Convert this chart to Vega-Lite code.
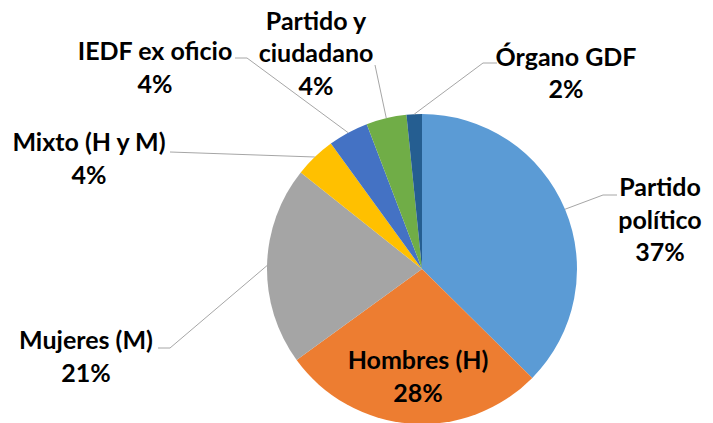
{
  "$schema": "https://vega.github.io/schema/vega-lite/v6.json",
  "width": 310,
  "height": 310,
  "autosize": {"type": "none"},
  "padding": {"left": 267, "top": 114, "right": 136, "bottom": 0},
  "background": "white",
  "config": {"view": {"stroke": null}},
  "data": {
    "values": [
      {"categoria": "Partido político", "pct": 37.4, "orden": 1, "etiqueta": "Partido\npolítico\n37%"},
      {"categoria": "Hombres (H)", "pct": 27.6, "orden": 2, "etiqueta": "Hombres (H)\n28%"},
      {"categoria": "Mujeres (M)", "pct": 20.7, "orden": 3, "etiqueta": "Mujeres (M)\n21%"},
      {"categoria": "Mixto (H y M)", "pct": 4.3, "orden": 4, "etiqueta": "Mixto (H y M)\n4%"},
      {"categoria": "IEDF ex oficio", "pct": 4.2, "orden": 5, "etiqueta": "IEDF ex oficio\n4%"},
      {"categoria": "Partido y ciudadano", "pct": 4.2, "orden": 6, "etiqueta": "Partido y\nciudadano\n4%"},
      {"categoria": "Órgano GDF", "pct": 1.6, "orden": 7, "etiqueta": "Órgano GDF\n2%"}
    ]
  },
  "layer": [
    {
      "mark": {"type": "arc", "outerRadius": 155},
      "encoding": {
        "theta": {"field": "pct", "type": "quantitative", "stack": true},
        "color": {
          "field": "categoria",
          "type": "nominal",
          "scale": {
            "domain": ["Partido político", "Hombres (H)", "Mujeres (M)", "Mixto (H y M)", "IEDF ex oficio", "Partido y ciudadano", "Órgano GDF"],
            "range": ["#5B9BD5", "#ED7D31", "#A5A5A5", "#FFC000", "#4472C4", "#70AD47", "#255E91"]
          },
          "legend": null
        },
        "order": {"field": "orden", "type": "quantitative"}
      }
    },
    {
      "transform": [
        {"window": [{"op": "sum", "field": "pct", "as": "acum"}], "sort": [{"field": "orden"}], "frame": [null, 0]},
        {"joinaggregate": [{"op": "sum", "field": "pct", "as": "total"}]},
        {"calculate": "2 * PI * (datum.acum - datum.pct / 2) / datum.total", "as": "ang"},
        {"calculate": "155 * sin(datum.ang)", "as": "bx"},
        {"calculate": "-155 * cos(datum.ang)", "as": "by"},
        {"calculate": "[181, 0, -252, -252, -175, -47, 61][datum.orden - 1]", "as": "kx"},
        {"calculate": "[-74, 0, 79, -117, -211, -204, -206][datum.orden - 1]", "as": "ky"},
        {"filter": "datum.orden != 2"}
      ],
      "mark": {"type": "rule", "color": "#A6A6A6", "strokeWidth": 1},
      "encoding": {
        "x": {"field": "bx", "type": "quantitative", "scale": {"domain": [-155, 155], "nice": false, "zero": false}, "axis": null},
        "y": {"field": "by", "type": "quantitative", "scale": {"domain": [-155, 155], "nice": false, "zero": false, "reverse": true}, "axis": null},
        "x2": {"field": "kx"},
        "y2": {"field": "ky"}
      }
    },
    {
      "transform": [
        {"calculate": "[181, 0, -252, -252, -175, -47, 61][datum.orden - 1]", "as": "kx"},
        {"calculate": "[-74, 0, 79, -117, -211, -204, -206][datum.orden - 1]", "as": "ky"},
        {"calculate": "[195, 0, -264, -252, -187, -47, 75][datum.orden - 1]", "as": "fx"},
        {"filter": "datum.orden != 2"}
      ],
      "mark": {"type": "rule", "color": "#A6A6A6", "strokeWidth": 1},
      "encoding": {
        "x": {"field": "kx", "type": "quantitative"},
        "y": {"field": "ky", "type": "quantitative"},
        "x2": {"field": "fx"},
        "y2": {"field": "ky"}
      }
    },
    {
      "transform": [
        {"calculate": "[238, -4, -336, -333, -267, -106, 144][datum.orden - 1]", "as": "lx"},
        {"calculate": "[-81, 92, 72, -126, -217, -247.5, -211.5][datum.orden - 1]", "as": "ly"}
      ],
      "mark": {
        "type": "text",
        "font": "Lato",
        "fontWeight": "bold",
        "fontSize": 25,
        "lineHeight": 32.5,
        "align": "center",
        "baseline": "middle",
        "lineBreak": "\n",
        "color": "#000000"
      },
      "encoding": {
        "x": {"field": "lx", "type": "quantitative"},
        "y": {"field": "ly", "type": "quantitative"},
        "text": {"field": "etiqueta", "type": "nominal"}
      }
    }
  ]
}
